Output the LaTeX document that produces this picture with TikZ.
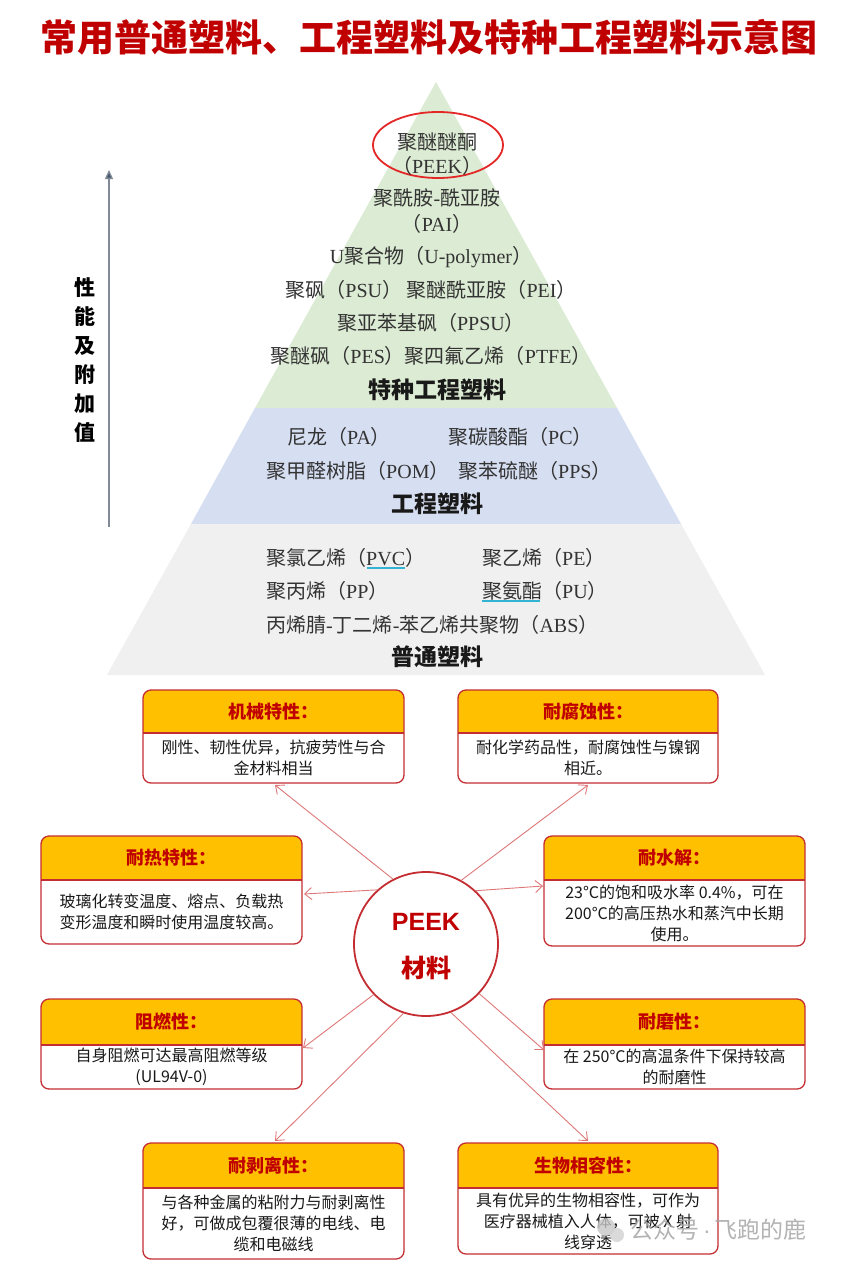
\documentclass[tikz,border=0pt]{standalone}
\usepackage{fontspec}
\setmainfont{Noto Sans CJK SC}
\newfontfamily\tnr{Liberation Serif}
\newfontfamily\arialf{Liberation Sans}
\usetikzlibrary{arrows.meta}
\definecolor{titlered}{RGB}{192,0,0}
\definecolor{boxred}{RGB}{196,45,50}
\definecolor{connred}{RGB}{222,120,120}
\definecolor{hdryellow}{RGB}{255,192,0}
\definecolor{pgreen}{RGB}{220,235,211}
\definecolor{pblue}{RGB}{214,222,241}
\definecolor{pgray}{RGB}{240,240,240}
\definecolor{ellred}{RGB}{228,40,40}
\definecolor{axisgray}{RGB}{128,138,152}
\definecolor{axisdark}{RGB}{68,84,106}
\definecolor{ulcyan}{RGB}{50,180,210}
\newcommand\E[1]{{\tnr #1}}
\newcommand\featbox[8]{%
  \begin{scope}
    \clip[rounded corners=8pt] (#2,#3) rectangle (#5,#6);
    \fill[white] (#2,#3) rectangle (#5,#6);
    \fill[hdryellow] (#2,#3) rectangle (#5,#4);
  \end{scope}
  \draw[boxline] (#2,#4) -- (#5,#4);
  \draw[boxline, rounded corners=8pt] (#2,#3) rectangle (#5,#6);
  \node[hdrtext] (#1h) at ({(#2+#5)/2},{(#3+#4)/2}) {#7};
  \node[bodytext] (#1t) at ({(#2+#5)/2},{(#4+#6)/2}) {#8};
}
\begin{document}
\begin{tikzpicture}[x=1pt,y=-1pt,
  ptext/.style={font=\fontsize{20}{24}\selectfont, text=black!80, inner sep=0},
  plabel/.style={font=\fontsize{23}{26}\selectfont\bfseries, text=black!90, inner sep=0},
  hdrtext/.style={font=\fontsize{18}{21}\selectfont\bfseries, text=titlered, inner sep=0},
  bodytext/.style={font=\fontsize{16}{21}\selectfont, text=black!90, align=center, inner sep=0},
  boxline/.style={draw=boxred, line width=1.3pt},
  conn/.style={draw=connred, line width=0.9pt, -{Straight Barb[length=7pt,width=12pt]}},
  axisline/.style={draw=axisgray, line width=1.3pt, -{Triangle[length=9pt,width=8pt,fill=axisdark]}}
]
\useasboundingbox (0,0) rectangle (845,1264);
\fill[white] (0,0) rectangle (845,1264);

% title
\node[font=\fontsize{37}{40}\selectfont\bfseries, text=titlered, inner sep=0] (title) at (429,37) {常用普通塑料、工程塑料及特种工程塑料示意图};

% pyramid
\fill[pgreen] (436,82) -- (617,408) -- (255,408) -- cycle;
\fill[pblue] (255,408) -- (617,408) -- (681,524) -- (191,524) -- cycle;
\fill[pgray] (191,524) -- (681,524) -- (765,675) -- (107,675) -- cycle;

\draw[ellred, line width=1.8pt] (438,145) ellipse [x radius=65, y radius=33];
\node[ptext] (p1) at (437,142) {聚醚醚酮};
\node[ptext] (p1b) at (437,166) {（\E{PEEK}）};
\node[ptext] (p2) at (437,198) {聚酰胺\E{-}酰亚胺};
\node[ptext] (p2b) at (437,224) {（\E{PAI}）};
\node[ptext] (p3) at (431,257) {\E{U}聚合物（\E{U-polymer}）};
\node[ptext] (p4) at (431,290) {聚砜（\E{PSU}） 聚醚酰亚胺（\E{PEI}）};
\node[ptext] (p5) at (431,323) {聚亚苯基砜（\E{PPSU}）};
\node[ptext] (p6) at (431,356) {聚醚砜（\E{PES}）聚四氟乙烯（\E{PTFE}）};
\node[plabel] (L1) at (437,390) {特种工程塑料};

\node[ptext, anchor=west] (e1) at (287,437) {尼龙（\E{PA}）};
\node[ptext, anchor=west] (e2) at (448,437) {聚碳酸酯（\E{PC}）};
\node[ptext, anchor=west] (e3) at (266,471) {聚甲醛树脂（\E{POM}）};
\node[ptext, anchor=west] (e4) at (458,471) {聚苯硫醚（\E{PPS}）};
\node[plabel] (L2) at (437,504) {工程塑料};

\node[ptext, anchor=west] (g1) at (266,558) {聚氯乙烯（\E{PVC}）};
\node[ptext, anchor=west] (g2) at (482,558) {聚乙烯（\E{PE}）};
\node[ptext, anchor=west] (g3) at (266,591) {聚丙烯（\E{PP}）};
\node[ptext, anchor=west] (g4) at (482,591) {聚氨酯（\E{PU}）};
\node[ptext, anchor=west] (g5) at (266,625) {丙烯腈\E{-}丁二烯\E{-}苯乙烯共聚物（\E{ABS}）};
\node[plabel] (L3) at (437,657) {普通塑料};
\draw[ulcyan, line width=1.6pt] (367,568) -- (405,568);
\draw[ulcyan, line width=1.6pt] (482,601) -- (540,601);

% axis
\coordinate (ax0) at (109,527);
\coordinate (ax1) at (109,170);
\draw[axisline] (ax0) -- (ax1);
\node[font=\fontsize{21}{29}\selectfont\bfseries, align=center, inner sep=0] (axl) at (85,360) {性\\能\\及\\附\\加\\值};

% feature boxes
\featbox{b1}{143}{690}{733}{404}{783}{机械特性：}{刚性、韧性优异，抗疲劳性与合\\金材料相当}
\featbox{b2}{458}{690}{733}{718}{783}{耐腐蚀性：}{耐化学药品性，耐腐蚀性与镍钢\\相近。}
\featbox{b3}{41}{836}{880}{302}{944}{耐热特性：}{玻璃化转变温度、熔点、负载热\\变形温度和瞬时使用温度较高。}
\featbox{b4}{544}{836}{880}{805}{946}{耐水解：}{23°C的饱和吸水率 0.4\%，可在\\200°C的高压热水和蒸汽中长期\\使用。}
\featbox{b5}{41}{999}{1045}{302}{1089}{阻燃性：}{自身阻燃可达最高阻燃等级\\(UL94V-0)}
\featbox{b6}{544}{999}{1045}{805}{1089}{耐磨性：}{在 250°C的高温条件下保持较高\\的耐磨性}
\featbox{b7}{143}{1143}{1188}{404}{1259}{耐剥离性：}{与各种金属的粘附力与耐剥离性\\好，可做成包覆很薄的电线、电\\缆和电磁线}
\featbox{b8}{458}{1143}{1188}{718}{1254}{生物相容性：}{具有优异的生物相容性，可作为\\医疗器械植入人体，可被 X 射\\线穿透}

% central circle
\node[circle, draw=boxred, line width=1.8pt, minimum size=144pt, fill=white, inner sep=0] (c) at (426,944) {};
\node[font=\fontsize{25}{28}\selectfont\arialf\bfseries, text=titlered, inner sep=0] (cp) at (426,922) {PEEK};
\node[font=\fontsize{25}{28}\selectfont\bfseries, text=titlered, inner sep=0] (cm) at (426,968) {材料};

% arrow targets
\coordinate (t1) at (275,785);
\coordinate (t2) at (588,785);
\coordinate (t3) at (304,894);
\coordinate (t4) at (543,886);
\coordinate (t5) at (303,1048);
\coordinate (t6) at (544,1050);
\coordinate (t7) at (275,1141);
\coordinate (t8) at (588,1141);
\draw[conn] (c.117) -- (t1);
\draw[conn] (c.61) -- (t2);
\draw[conn] (c.132) -- (t3);
\draw[conn] (c.47) -- (t4);
\draw[conn] (c.224) -- (t5);
\draw[conn] (c.317) -- (t6);
\draw[conn] (c.252) -- (t7);
\draw[conn] (c.290) -- (t8);

% watermark
\fill[black!22, opacity=0.8] (606,1227) circle (9);
\fill[black!18, opacity=0.8] (617,1235) circle (7);
\node[font=\fontsize{23}{26}\selectfont, text=black!35, anchor=west, inner sep=0, opacity=0.85] (wm) at (630,1230) {公众号{\arialf\,·\,}飞跑的鹿};
\end{tikzpicture}
\end{document}
